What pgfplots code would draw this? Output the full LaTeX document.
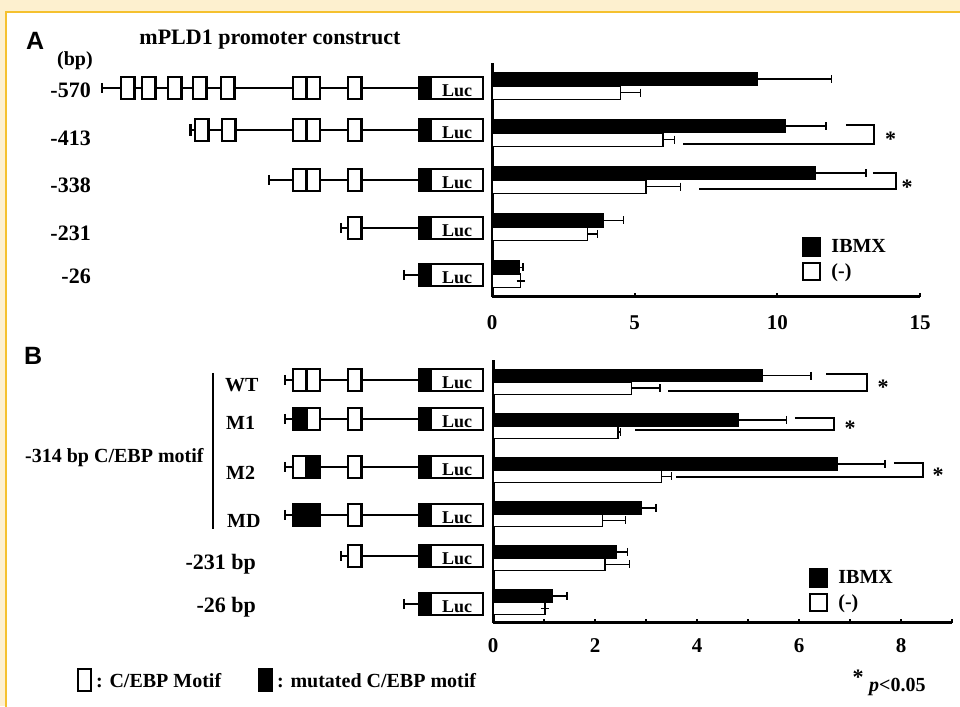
\documentclass[border=0pt]{standalone}
\usepackage{fontspec}
\setmainfont{Liberation Serif}
\newfontfamily\sansb{Liberation Sans}
\usepackage{pgfplots}
\pgfplotsset{compat=1.18}
\usepackage{pgfplotstable}
\definecolor{cream}{HTML}{FDF0CF}
\definecolor{gold}{HTML}{F5C12E}
\newcommand{\fs}[1]{\fontsize{#1}{#1}\selectfont\bfseries}

\pgfplotstableread{
g ibmx eibmx neg eneg
1 9.30 2.60 4.50 0.70
2 10.30 1.40 6.00 0.40
3 11.33 1.77 5.40 1.20
4 3.90 0.70 3.35 0.35
5 0.95 0.13 1.00 0.00
}\dataA
\pgfplotstableread{
g ibmx eibmx neg eneg
1 5.28 0.96 2.72 0.55
2 4.81 0.94 2.45 0.05
3 6.75 0.94 3.30 0.20
4 2.92 0.28 2.15 0.45
5 2.42 0.22 2.20 0.48
6 1.17 0.28 1.02 0.00
}\dataB

\pgfplotsset{
  sqlegend/.style={legend image code/.code={\draw[##1, line width=2.4pt] (0pt,-8.5pt) rectangle (17pt,8.5pt);}},
  errs/.style={error bars/.cd, x dir=plus, x explicit,
     error bar style={line width=1.5pt, black},
     error mark options={line width=1.5pt, mark size=4pt, black, rotate=90}},
  panel/.style={anchor=south west, scale only axis, clip=false,
     axis lines*=left, axis line style={line width=3pt},
     ytick=\empty, xtick align=inside, major tick length=4pt,
     tick style={line width=2pt, black},
     /pgf/number format/assume math mode=true,
     legend cell align=left}
}

\tikzset{ln/.style={line width=1.6pt}, bx/.style={line width=2.2pt, draw=black, fill=white}}
\newcommand{\luc}[1]{%
  \fill[black] (419,#1-11) rectangle (432,#1+11);
  \draw[line width=2.2pt] (419,#1-11) rectangle (483,#1+11);
  \node[font=\fs{18}, anchor=base, inner sep=0pt] at (457,#1+9) {Luc};}
\newcommand{\bx}[3][white]{\draw[bx, fill=#1] (#2,#3-11) rectangle (#2+13.5,#3+11);}
\newcommand{\st}[2]{\draw[line width=2.2pt] (#1,#2-5) -- (#1,#2+5);}

\begin{document}
\begin{tikzpicture}[x=1pt,y=1pt]
\fill[cream] (0,0) rectangle (960,706);
\fill[white] (6.2,0) rectangle (960,694.1);
\draw[gold, line width=2.5pt] (6.2,-2) -- (6.2,694.1) -- (962,694.1);

% ---------- Panel A ----------
\begin{axis}[panel, at={(492pt,409pt)}, width=428pt, height=234pt,
  xmin=0, xmax=15, ymin=-5.489, ymax=-0.511, xtick={0,5,10,15},
  xticklabel style={font=\fs{21}, yshift=-15pt},
  legend style={at={(0.724,0.256)}, anchor=north west, draw=none, fill=none,
    inner sep=0pt, font=\fs{20}, row sep=5pt, column sep=9pt, nodes={inner sep=1pt}}]
\addplot[xbar, sqlegend, bar width=13.5pt, bar shift=0pt, fill=black, draw=black, line width=1pt, errs]
  table[x=ibmx, y expr=-\thisrow{g}+0.1436, x error=eibmx] {\dataA};
\addlegendentry{IBMX}
\addplot[xbar, sqlegend, bar width=13.5pt, bar shift=0pt, fill=white, draw=black, line width=1.5pt, errs]
  table[x=neg, y expr=-\thisrow{g}-0.1436, x error=eneg] {\dataA};
\addlegendentry{(-)}
\draw[line width=1.5pt] (axis cs:12.4,-1.830) -| (axis cs:13.39,-2.234) -- (axis cs:6.7,-2.234);
\node[font=\fs{22}, anchor=base, inner sep=0pt] at (axis cs:13.97,-2.298) {*};
\draw[line width=1.5pt] (axis cs:13.35,-2.851) -| (axis cs:14.16,-3.191) -- (axis cs:7.26,-3.191);
\node[font=\fs{22}, anchor=base, inner sep=0pt] at (axis cs:14.55,-3.319) {*};
\end{axis}

% ---------- Panel B ----------
\begin{axis}[panel, at={(493pt,83pt)}, width=459pt, height=263pt,
  xmin=0, xmax=9, ymin=-6.477, ymax=-0.5, xtick={0,...,9},
  xticklabels={0,,2,,4,,6,,8,},
  xticklabel style={font=\fs{21}, yshift=-12pt},
  legend style={at={(0.688,0.209)}, anchor=north west, draw=none, fill=none,
    inner sep=0pt, font=\fs{20}, row sep=5pt, column sep=9pt, nodes={inner sep=1pt}}]
\addplot[xbar, sqlegend, bar width=12.5pt, bar shift=0pt, fill=black, draw=black, line width=1pt, errs]
  table[x=ibmx, y expr=-\thisrow{g}+0.142, x error=eibmx] {\dataB};
\addlegendentry{IBMX}
\addplot[xbar, sqlegend, bar width=12.5pt, bar shift=0pt, fill=white, draw=black, line width=1.5pt, errs]
  table[x=neg, y expr=-\thisrow{g}-0.142, x error=eneg] {\dataB};
\addlegendentry{(-)}
\draw[line width=1.5pt] (axis cs:6.53,-0.818) -| (axis cs:7.33,-1.205) -- (axis cs:3.43,-1.205);
\node[font=\fs{22}, anchor=base, inner sep=0pt] at (axis cs:7.65,-1.273) {*};
\draw[line width=1.5pt] (axis cs:5.92,-1.818) -| (axis cs:6.69,-2.091) -- (axis cs:2.78,-2.091);
\node[font=\fs{22}, anchor=base, inner sep=0pt] at (axis cs:7.0,-2.227) {*};
\draw[line width=1.5pt] (axis cs:7.86,-2.841) -| (axis cs:8.43,-3.159) -- (axis cs:3.59,-3.159);
\node[font=\fs{22}, anchor=base, inner sep=0pt] at (axis cs:8.73,-3.273) {*};
\end{axis}

% ---------- Diagrams (pixel coordinates, y downward) ----------
\begin{scope}[y=-1pt, yshift=706pt]
\tikzset{every node/.style={inner sep=0pt}}
\node[font=\sansb\bfseries\fontsize{25}{25}\selectfont, anchor=base west] at (26,50) {A};
\node[font=\fs{22}, anchor=base] at (270,44.5) {mPLD1 promoter construct};
\node[font=\fs{20}, anchor=base west] at (57,66) {(bp)};
\node[font=\fs{22}, anchor=base east] at (91,97.5) {-570};
\node[font=\fs{22}, anchor=base east] at (91,145.5) {-413};
\node[font=\fs{22}, anchor=base east] at (91,192.5) {-338};
\node[font=\fs{22}, anchor=base east] at (91,240.5) {-231};
\node[font=\fs{22}, anchor=base east] at (91,283.5) {-26};
% row -570
\draw[ln] (102,88) -- (419,88); \st{102}{88}
\foreach \x in {121,142,168,193,221} {\bx{\x}{88}}
\bx{293}{88}\bx{306.5}{88}\bx{348}{88}\luc{88}
% row -413
\draw[ln] (190,130) -- (419,130); \draw[line width=3pt] (190,124) -- (190,136);
\bx{195}{130}\bx{222}{130}\bx{293}{130}\bx{306.5}{130}\bx{348}{130}\luc{130}
% row -338
\draw[ln] (269,180) -- (419,180); \st{269}{180}
\bx{293}{180}\bx{306.5}{180}\bx{348}{180}\luc{180}
% row -231
\draw[ln] (341,228) -- (419,228); \st{341}{228}
\bx{348}{228}\luc{228}
% row -26
\draw[ln] (404,275) -- (419,275); \st{404}{275}
\luc{275}

% Panel B
\node[font=\sansb\bfseries\fontsize{25}{25}\selectfont, anchor=base west] at (24,365) {B};
\draw[line width=2pt] (213,373) -- (213,529);
\node[font=\fs{20}, anchor=base west] at (225,391.5) {WT};
\node[font=\fs{20}, anchor=base west] at (226,430) {M1};
\node[font=\fs{20}, anchor=base west] at (226,480) {M2};
\node[font=\fs{20}, anchor=base west] at (227,528) {MD};
\node[font=\fs{20}, anchor=base west] at (25,463) {-314 bp C/EBP motif};
\node[font=\fs{22}, anchor=base east] at (256,569.5) {-231 bp};
\node[font=\fs{22}, anchor=base east] at (256,612.5) {-26 bp};
% WT
\draw[ln] (285,380) -- (419,380); \st{285}{380}
\bx{293}{380}\bx{306.5}{380}\bx{348}{380}\luc{380}
% M1
\draw[ln] (285,419) -- (419,419); \st{285}{419}
\bx[black]{293}{419}\bx{306.5}{419}\bx{348}{419}\luc{419}
% M2
\draw[ln] (285,467) -- (419,467); \st{285}{467}
\bx{293}{467}\bx[black]{306.5}{467}\bx{348}{467}\luc{467}
% MD
\draw[ln] (285,515) -- (419,515); \st{285}{515}
\draw[bx, fill=black] (293,504) rectangle (320,526);\bx{348}{515}\luc{515}
% -231
\draw[ln] (341,556) -- (419,556); \st{341}{556}
\bx{348}{556}\luc{556}
% -26
\draw[ln] (404,604) -- (419,604); \st{404}{604}
\luc{604}

% bottom key
\draw[line width=2.5pt, fill=white] (78,669) rectangle (91,691);
\node[font=\fs{20}, anchor=base west] at (96,687) {: C/EBP Motif};
\draw[line width=2.5pt, fill=black] (259,669) rectangle (272,691);
\node[font=\fs{20}, anchor=base west] at (277,687) {: mutated C/EBP motif};
\node[font=\fs{22}, anchor=base] at (858,685) {*};
\node[font=\fs{20}, anchor=base west] at (869,692) {\textit{p}<0.05};
\end{scope}

\pgfresetboundingbox
\useasboundingbox (0,0) rectangle (960,706);
\end{tikzpicture}
\end{document}
